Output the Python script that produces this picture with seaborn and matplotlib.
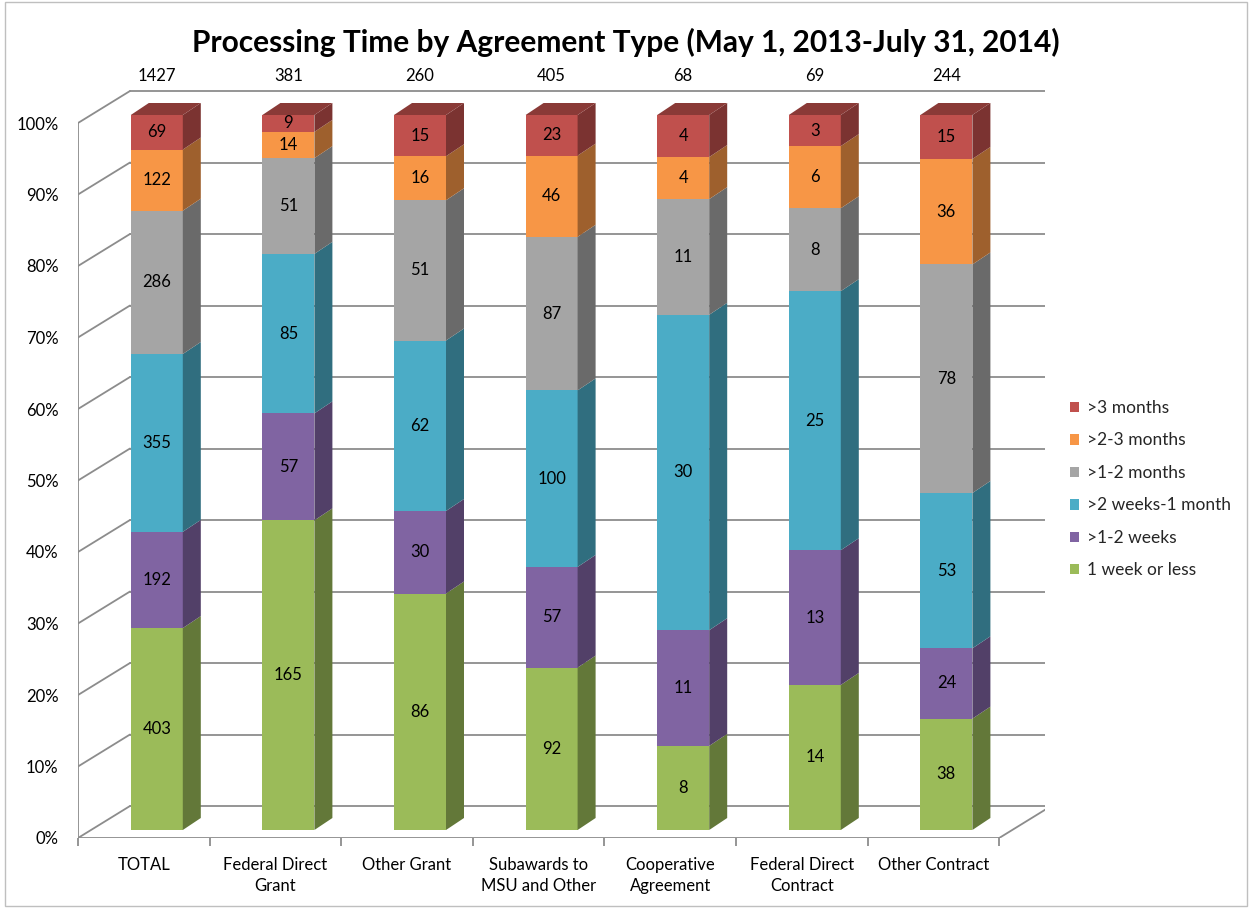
import numpy as np
import pandas as pd
import matplotlib
matplotlib.use("Agg")
import matplotlib.pyplot as plt
import seaborn as sns
from matplotlib.patches import Polygon, Rectangle
from matplotlib.colors import to_rgb

categories = ["TOTAL", "Federal Direct\nGrant", "Other Grant", "Subawards to\nMSU and Other",
              "Cooperative\nAgreement", "Federal Direct\nContract", "Other Contract"]
series_names = ["1 week or less", ">1-2 weeks", ">2 weeks-1 month", ">1-2 months", ">2-3 months", ">3 months"]
week1_or_less = [403, 165, 86, 92, 8, 14, 38]
weeks_1_2 = [192, 57, 30, 57, 11, 13, 24]
weeks2_month1 = [355, 85, 62, 100, 30, 25, 53]
months_1_2 = [286, 51, 51, 87, 11, 8, 78]
months_2_3 = [122, 14, 16, 46, 4, 6, 36]
months_over3 = [69, 9, 15, 23, 4, 3, 15]
colors = ["#9BBB59", "#8064A2", "#4BACC6", "#A5A5A5", "#F79646", "#C0504D"]
y_ticks = [0, 10, 20, 30, 40, 50, 60, 70, 80, 90, 100]

series = [week1_or_less, weeks_1_2, weeks2_month1, months_1_2, months_2_3, months_over3]
counts = np.array(series, dtype=float)
totals = counts.sum(axis=0)
pct = counts / totals * 100
cum = np.cumsum(pct, axis=0)

sns.set_theme(style="white")
plt.rcParams['font.family'] = ['Lato', 'DejaVu Sans']

W, H = 1249, 908
fig = plt.figure(figsize=(W / 100, H / 100), dpi=100)
fig.patch.set_facecolor("white")
ax_left, ax_right, ax_bottom, ax_top = 78, 1045, 838, 88
ax = fig.add_axes([ax_left / W, 1 - ax_bottom / H, (ax_right - ax_left) / W, (ax_bottom - ax_top) / H])
ax.set_facecolor("none")

PX_X = 131.6   # pixels per category
PX_Y = 7.15    # pixels per percent
BX, BY = 52 / PX_X, 32 / PX_Y      # back wall offset
OX, OY = 13 / PX_X, 8 / PX_Y       # bar front offset
DX, DY = 18 / PX_X, 12 / PX_Y      # bar depth
BW = 52 / PX_X                      # bar width
n = len(categories)
xmin = -0.5
xmax = -0.5 + (ax_right - ax_left) / PX_X
ymax = (ax_bottom - ax_top) / PX_Y

# layered bars (tallest cumulative first)
for i in reversed(range(len(series))):
    df = pd.DataFrame({"cat": categories, "val": cum[i]})
    sns.barplot(data=df, x="cat", y="val", color=colors[i], saturation=1, width=BW,
                ax=ax, linewidth=0, zorder=3)

for p in ax.patches:
    p.set_x(p.get_x() + OX)
    p.set_y(p.get_y() + OY)


def shade(c, f):
    r, g, b = to_rgb(c)
    return (r * f, g * f, b * f)


# side and top faces, labels
for j in range(n):
    x1 = j + BW / 2 + OX
    x0 = j - BW / 2 + OX
    for i in range(len(series)):
        b = 0 if i == 0 else cum[i - 1][j]
        t = cum[i][j]
        poly = Polygon([(x1, b + OY), (x1 + DX, b + OY + DY), (x1 + DX, t + OY + DY), (x1, t + OY)],
                       closed=True, facecolor=shade(colors[i], 0.64), edgecolor="none", zorder=3)
        ax.add_patch(poly)
        ax.text(j + OX, (b + t) / 2 + OY, str(int(series[i][j])), ha="center", va="center",
                fontsize=12, color="black", zorder=5)
    top = cum[-1][j]
    poly = Polygon([(x0, top + OY), (x0 + DX, top + OY + DY), (x1 + DX, top + OY + DY), (x1, top + OY)],
                   closed=True, facecolor=shade(colors[-1], 0.72), edgecolor="none", zorder=3)
    ax.add_patch(poly)
    ax.text(j + OX, ymax + 12 / PX_Y, str(int(totals[j])), ha="center", va="center",
            fontsize=12, color="black", clip_on=False)

# grid: back wall, left wall diagonals, floor
gc = "#8C8C8C"
for v in y_ticks:
    ax.plot([xmin + BX, xmax], [v + BY, v + BY], color=gc, lw=1.3, zorder=1)
    ax.plot([xmin, xmin + BX], [v, v + BY], color=gc, lw=1.3, zorder=1)
ax.plot([xmin, xmin], [0, 100], color=gc, lw=1.3, zorder=2)
ax.plot([xmin, n - 0.5], [0, 0], color=gc, lw=1.3, zorder=2)
ax.plot([n - 0.5, n - 0.5 + BX], [0, BY], color=gc, lw=1.3, zorder=2)

ax.set_xlim(xmin, xmax)
ax.set_ylim(0, ymax)
for s in ax.spines.values():
    s.set_visible(False)
ax.set_xlabel("")
ax.set_ylabel("")
ax.set_xticks(range(n))
ax.set_xticklabels(categories, fontsize=12, color="black", linespacing=1.35)
ax.set_xticks([k - 0.5 for k in range(n + 1)], minor=True)
ax.tick_params(axis="x", which="major", length=0, pad=14)
ax.tick_params(axis="x", which="minor", length=6, width=1.3, color=gc, direction="out", bottom=True)
ax.set_yticks(y_ticks)
ax.set_yticklabels([f"{v}%" for v in y_ticks], fontsize=12, color="black")
ax.tick_params(axis="y", length=0, pad=14)
ax.grid(False)

# legend
handles = [Rectangle((0, 0), 1, 1, facecolor=colors[i], edgecolor="none") for i in reversed(range(len(series)))]
labels = [series_names[i] for i in reversed(range(len(series)))]
fig.legend(handles, labels, loc="upper left", bbox_to_anchor=(1063 / W, 1 - 393 / H), frameon=False,
           fontsize=12.5, handlelength=0.55, handleheight=0.55, handletextpad=0.45, labelspacing=0.95,
           borderaxespad=0)

fig.text(626 / W, 1 - 42 / H, "Processing Time by Agreement Type (May 1, 2013-July 31, 2014)",
         ha="center", va="center", fontsize=21.5, fontweight="bold", color="black")

fig.add_artist(Rectangle((5 / W, 2 / H), 1 - 7 / W, 1 - 4 / H, transform=fig.transFigure,
                         facecolor="none", edgecolor="#BFBFBF", lw=1))

fig.savefig("out.png", dpi=100, facecolor="white")
